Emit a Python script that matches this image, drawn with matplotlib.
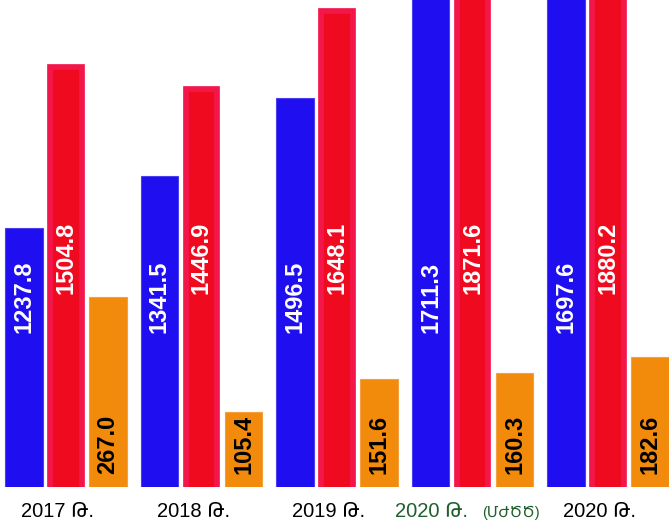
"""Armenian budget bars, three series per year."""

import numpy as np
import matplotlib.pyplot as plt
from matplotlib import transforms

years = ['2017 Թ.', '2018 Թ.', '2019 Թ.', '2020 Թ.', '2020 Թ.']
note = '(ՄԺԾԾ)'
blue_vals = [1237.8, 1341.5, 1496.5, 1711.3, 1697.6]
red_vals = [1504.8, 1446.9, 1648.1, 1871.6, 1880.2]
orange_vals = [267.0, 105.4, 151.6, 160.3, 182.6]

fam = ['Liberation Sans', 'DejaVu Sans']
x = np.arange(len(years))

fig = plt.figure(figsize=(6.69, 5.23), dpi=100)
ax = fig.add_axes([0, 36 / 523, 1, 487 / 523])
axr = ax.twinx()
axo = ax.twinx()

# each series has its own scale in the original picture
ax.set_ylim(718.8, 1692.8)
axr.set_ylim(427, 1675.7)
axo.set_ylim(0, 685.4)
ax.set_xlim(-0.487, 4.45)

off = 0.31
ax.bar(x - off, blue_vals, width=0.28, color='#1e0ef0',
       edgecolor='#4a40f0', linewidth=0.8)
axr.bar(x, red_vals, width=0.231, color='#f00a20',
        edgecolor='#f3164a', linewidth=4.1)
axo.bar(x + off, orange_vals, width=0.28, color='#f28b0c',
        edgecolor='#f5a040', linewidth=0.8)

for a in (ax, axr, axo):
    a.set_axis_off()

# value labels inside the bars
for a, vals, dx, yf, va, col in [(ax, blue_vals, -off, 0.39, 'center', 'white'),
                                 (axr, red_vals, 0, 0.47, 'center', 'white'),
                                 (axo, orange_vals, off, 0.027, 'bottom', 'black')]:
    tr = transforms.blended_transform_factory(a.transData, a.transAxes)
    for xi, v in zip(x, vals):
        a.text(xi + dx, yf, f'{v:.1f}', transform=tr, rotation=90,
               ha='center', va=va, color=col, fontsize=17,
               fontweight='bold', family=fam)

# year labels under the groups
tr = transforms.blended_transform_factory(axo.transData, axo.transAxes)
for i, lab in enumerate(years):
    if i == 3:
        axo.text(i - 0.035, -0.0616, lab, transform=tr, ha='right',
                 va='baseline', fontsize=14.5, color='#1f5f2b', family=fam)
        axo.text(i + 0.07, -0.0616, note, transform=tr, ha='left',
                 va='baseline', fontsize=10.5, color='#1f5f2b', family=fam)
    else:
        axo.text(i - 0.06, -0.0616, lab, transform=tr, ha='center',
                 va='baseline', fontsize=14.5, color='black', family=fam)

fig.savefig('out.png', dpi=100)
